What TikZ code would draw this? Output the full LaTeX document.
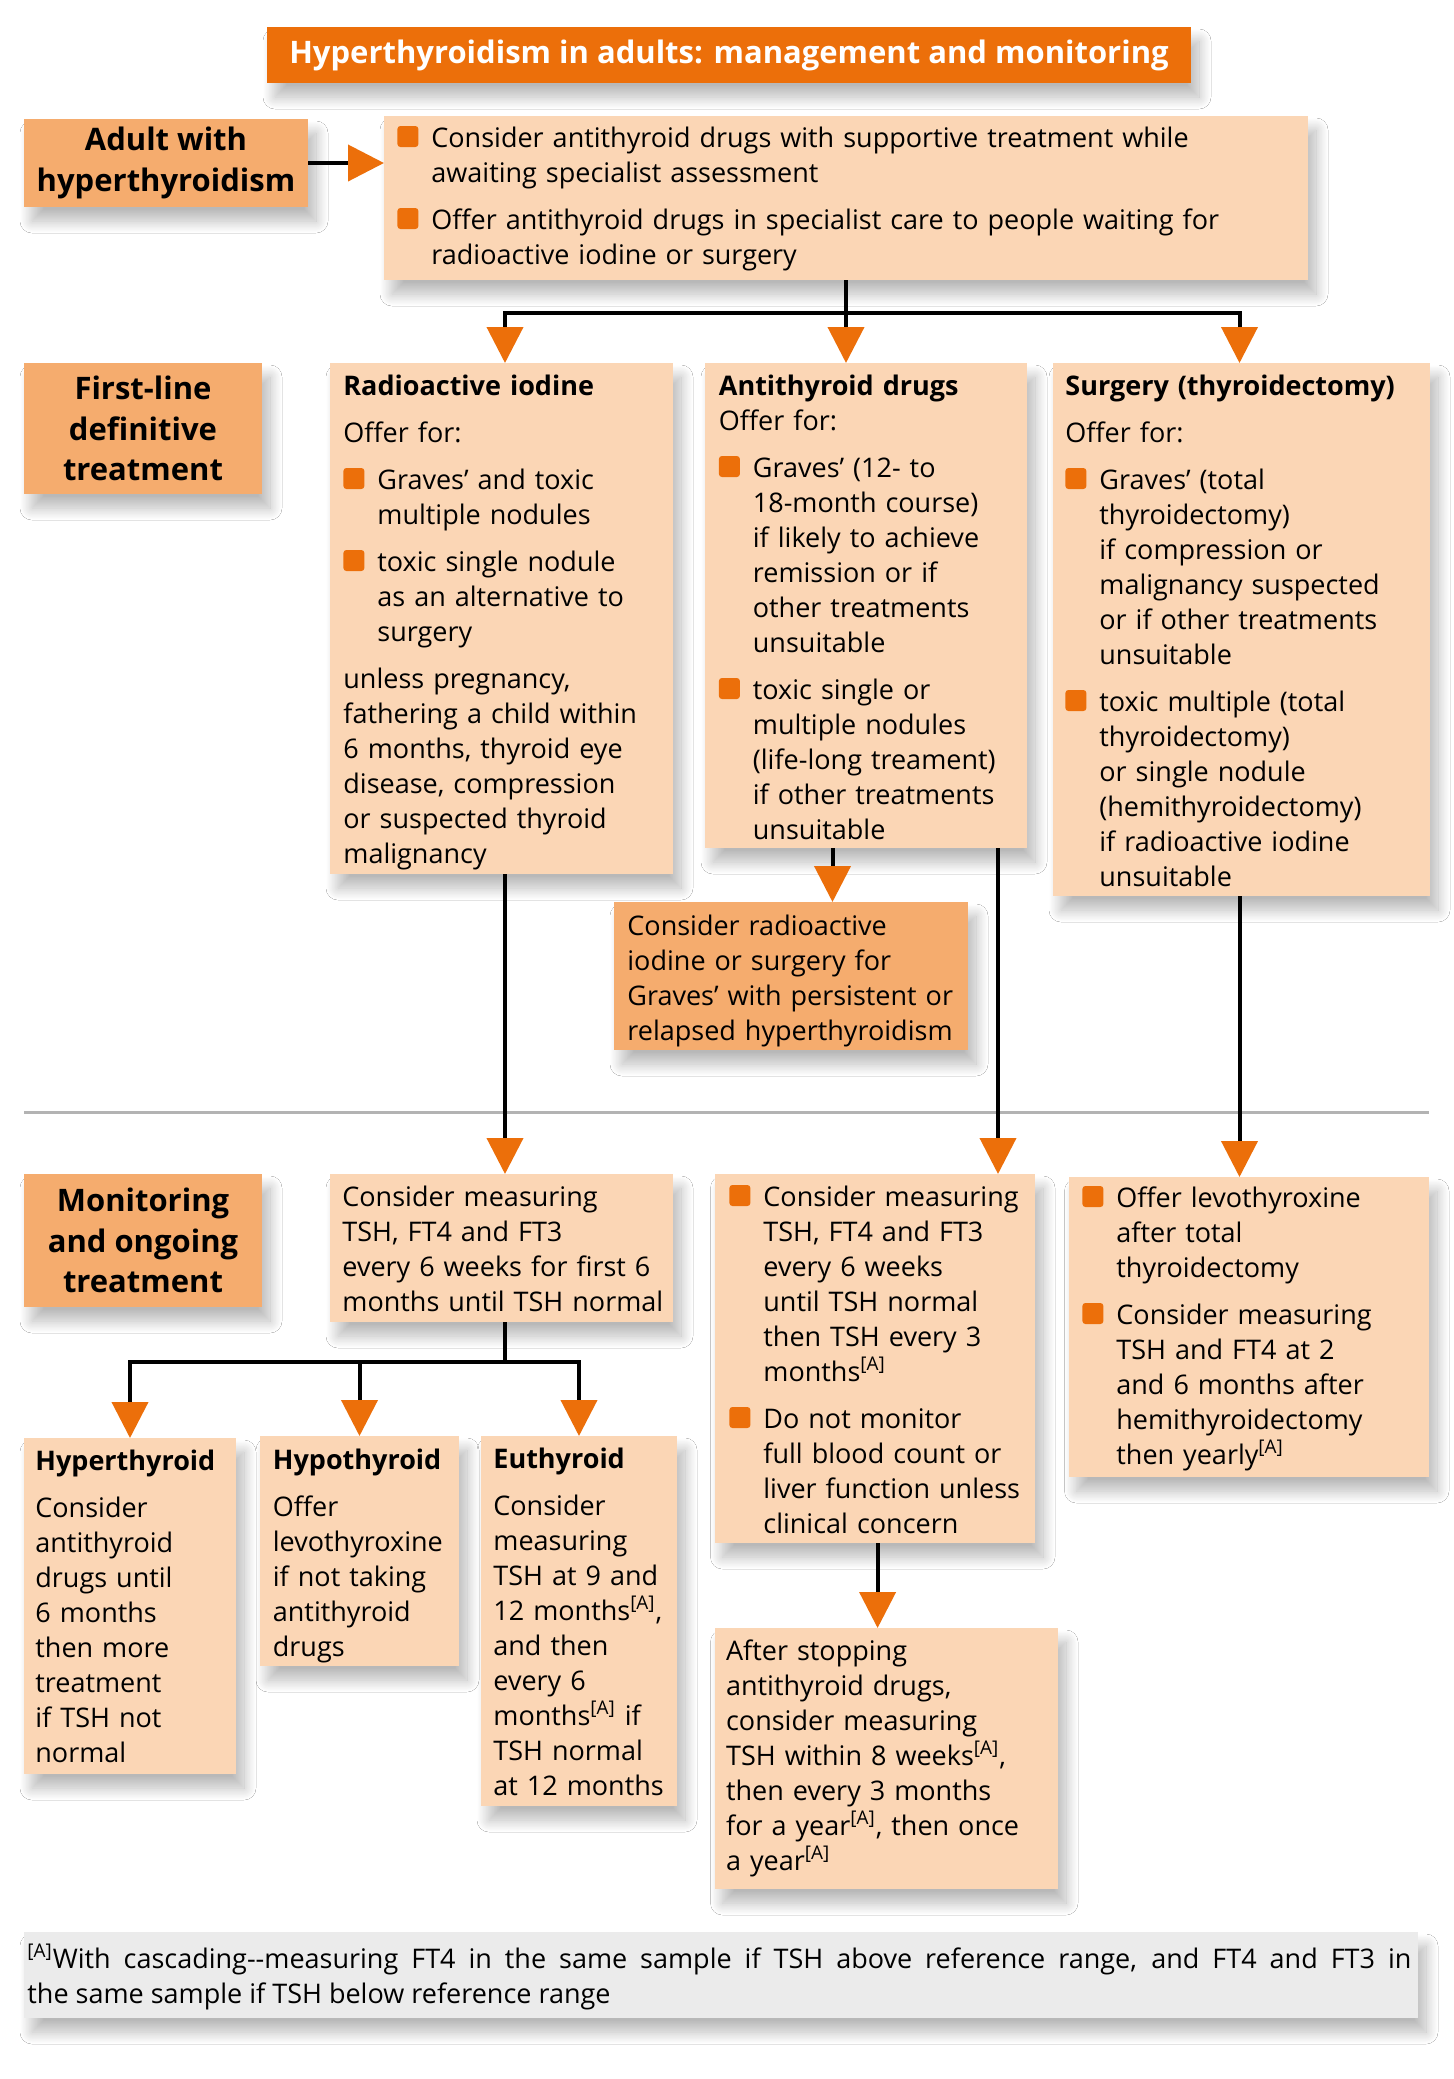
\documentclass[tikz,border=0pt]{standalone}
\usepackage{fontspec}
\setmainfont{Open Sans}
\usetikzlibrary{arrows.meta,fit,shadows.blur}
\definecolor{orng}{HTML}{EC6F0A}
\definecolor{peach}{HTML}{FBD6B5}
\definecolor{sandy}{HTML}{F5AC6E}
\definecolor{fgray}{HTML}{EBEBEB}
\definecolor{sepgray}{HTML}{B3B3B3}
\newsavebox\bulbox
\newcommand\nl{\newline}
\newcommand\gap{\par\vspace{6pt}}
\newcommand\bul[1]{\hangindent=17pt\hangafter=1\noindent\makebox[17pt][l]{\usebox\bulbox}#1\par}
\newcommand\sA{\textsuperscript{[A]}}
\newcommand\bodyfont{\fontsize{13.5pt}{17.5pt}\selectfont}
\newcommand\headfont{\fontsize{15.5pt}{20.2pt}\selectfont\bfseries}
\begin{document}
\sbox\bulbox{\begin{pgfpicture}\pgfsetfillcolor{orng}\pgfsetcornersarced{\pgfpoint{1.5pt}{1.5pt}}\pgfpathrectangle{\pgfpointorigin}{\pgfpoint{10.5pt}{10.5pt}}\pgfusepath{fill}\end{pgfpicture}}
\begin{tikzpicture}[x=0.5pt,y=-0.5pt,
  shd/.style={blur shadow={shadow xshift=4pt, shadow yshift=-7pt, shadow blur radius=6pt, shadow blur steps=20, shadow opacity=28}},
  peachbox/.style={fill=peach, inner sep=0pt, outer sep=0pt, shd},
  sandybox/.style={fill=sandy, inner sep=0pt, outer sep=0pt, shd},
  txt/.style={anchor=base west, inner sep=0pt, align=left, text width=400pt, font=\bodyfont},
  head/.style={anchor=center, inner sep=0pt, align=center, font=\headfont},
  ln/.style={line width=2pt, black},
  arr/.style={ln, -{Triangle[length=18pt,width=18pt,color=orng]}},
  sep/.style={line width=1.5pt, sepgray}]
\fill[white] (0,0) rectangle (1453,2079);
\useasboundingbox (0,0) rectangle (1453,2079);

% title
\node[fill=orng, inner sep=0pt, shd, fit={(267,27) (1191,83)}] (title) {};
\node[anchor=center, inner sep=0pt, text=white, font=\fontsize{15.5pt}{18pt}\selectfont\bfseries] (title-t) at (title.center) {Hyperthyroidism in adults: management and monitoring};

% row 0
\node[sandybox, fit={(24,119) (308,207)}] (adult) {};
\node[head] (adult-t) at (adult.center) {Adult with\\hyperthyroidism};
\node[peachbox, fit={(384,116) (1308,280)}] (top) {};
\node[txt, text width=600pt] (top-t) at (397,147) {\bul{Consider antithyroid drugs with supportive treatment while\nl awaiting specialist assessment}\gap
\bul{Offer antithyroid drugs in specialist care to people waiting for\nl radioactive iodine or surgery}};

% row 1
\node[sandybox, fit={(24,363) (262,494)}] (first) {};
\node[head] (first-t) at (first.center) {First-line\\definitive\\treatment};

\node[peachbox, fit={(330,363) (673,874)}] (ri) {};
\node[txt] (ri-t) at (343,395) {\textbf{Radioactive iodine}\gap
Offer for:\gap
\bul{Graves’ and toxic\nl multiple nodules}\gap
\bul{toxic single nodule\nl as an alternative to\nl surgery}\gap
unless pregnancy,\nl fathering a child within\nl 6 months, thyroid eye\nl disease, compression\nl or suspected thyroid\nl malignancy};

\node[peachbox, fit={(705,363) (1027,848)}] (ad) {};
\node[txt] (ad-t) at (718.5,395) {\textbf{Antithyroid drugs}\nl Offer for:\gap
\bul{Graves’ (12- to\nl 18-month course)\nl if likely to achieve\nl remission or if\nl other treatments\nl unsuitable}\gap
\bul{toxic single or\nl multiple nodules\nl (life-long treament)\nl if other treatments\nl unsuitable}};

\node[peachbox, fit={(1053,363) (1430,896)}] (su) {};
\node[txt] (su-t) at (1065,395) {\textbf{Surgery (thyroidectomy)}\gap
Offer for:\gap
\bul{Graves’ (total\nl thyroidectomy)\nl if compression or\nl malignancy suspected\nl or if other treatments\nl unsuitable}\gap
\bul{toxic multiple (total\nl thyroidectomy)\nl or single nodule\nl (hemithyroidectomy)\nl if radioactive iodine\nl unsuitable}};

\node[sandybox, fit={(614,902) (968,1050)}] (cons) {};
\node[txt] (cons-t) at (627,935) {Consider radioactive\nl iodine or surgery for\nl Graves’ with persistent or\nl relapsed hyperthyroidism};

% separator
\draw[sep] (24,1112) -- (1429,1112);

% row 2
\node[sandybox, fit={(24,1174) (262,1307)}] (mon) {};
\node[head] (mon-t) at (mon.center) {Monitoring\\and ongoing\\treatment};

\node[peachbox, fit={(330,1174) (673,1322)}] (m1) {};
\node[txt] (m1-t) at (342,1206) {Consider measuring\nl TSH, FT4 and FT3\nl every 6 weeks for first 6\nl months until TSH normal};

\node[peachbox, fit={(714.5,1174) (1035,1543)}] (m2) {};
\node[txt] (m2-t) at (729,1206) {\bul{Consider measuring\nl TSH, FT4 and FT3\nl every 6 weeks\nl until TSH normal\nl then TSH every 3\nl months\sA}\gap
\bul{Do not monitor\nl full blood count or\nl liver function unless\nl clinical concern}};

\node[peachbox, fit={(1068.5,1177) (1429,1477)}] (m3) {};
\node[txt] (m3-t) at (1082,1207) {\bul{Offer levothyroxine\nl after total\nl thyroidectomy}\gap
\bul{Consider measuring\nl TSH and FT4 at 2\nl and 6 months after\nl hemithyroidectomy\nl then yearly\sA}};

% row 3
\node[peachbox, fit={(24,1438) (236,1774)}] (hyper) {};
\node[txt] (hyper-t) at (35,1470) {\textbf{Hyperthyroid}\gap
Consider\nl antithyroid\nl drugs until\nl 6 months\nl then more\nl treatment\nl if TSH not\nl normal};

\node[peachbox, fit={(260,1436) (459,1666)}] (hypo) {};
\node[txt] (hypo-t) at (272.5,1469) {\textbf{Hypothyroid}\gap
Offer\nl levothyroxine\nl if not taking\nl antithyroid\nl drugs};

\node[peachbox, fit={(481,1436) (677,1806)}] (eu) {};
\node[txt] (eu-t) at (493,1468) {\textbf{Euthyroid}\gap
Consider\nl measuring\nl TSH at 9 and\nl 12 months\sA,\nl and then\nl every 6\nl months\sA{} if\nl TSH normal\nl at 12 months};

\node[peachbox, fit={(714.5,1628) (1058,1889)}] (after) {};
\node[txt] (after-t) at (725.7,1660) {After stopping\nl antithyroid drugs,\nl consider measuring\nl TSH within 8 weeks\sA,\nl then every 3 months\nl for a year\sA, then once\nl a year\sA};

% footnote
\node[fill=fgray, inner sep=0pt, shd, fit={(24,1932) (1418,2018)}] (foot) {};
\node[txt, text width=692pt, align=justify] (foot-t) at (27,1968) {\sA With cascading-{}-measuring FT4 in the same sample if TSH above reference range, and FT4 and FT3 in\linebreak the same sample if TSH below reference range};

% connector coordinates
\coordinate (s1) at (846,313);
\coordinate (ri-in) at (505,363);
\coordinate (su-in) at (1239.5,363);
\coordinate (c-in) at (832.5,902);
\coordinate (m2-in) at (998,1174);
\coordinate (s2) at (505,1362);
\coordinate (a-in) at (877.6,1628);

% connectors
\draw[arr] (adult.east) -- (adult.east -| top.west);
\draw[arr] (top.south) -- (top.south |- ad.north);
\draw[arr] (s1) -| (ri-in);
\draw[arr] (s1) -| (su-in);
\draw[arr] (ri.south -| ri-in) -- (m1.north -| ri-in);
\draw[arr] (ad.south -| c-in) -- (c-in);
\draw[arr] (ad.south -| m2-in) -- (m2-in);
\draw[arr] (su.south -| su-in) -- (m3.north -| su-in);
\draw[ln] (m1.south -| s2) -- (s2);
\draw[arr] (s2) -| (hyper.north);
\draw[arr] (s2) -| (hypo.north);
\draw[arr] (s2) -| (eu.north);
\draw[arr] (m2.south -| a-in) -- (a-in);
\end{tikzpicture}
\end{document}
